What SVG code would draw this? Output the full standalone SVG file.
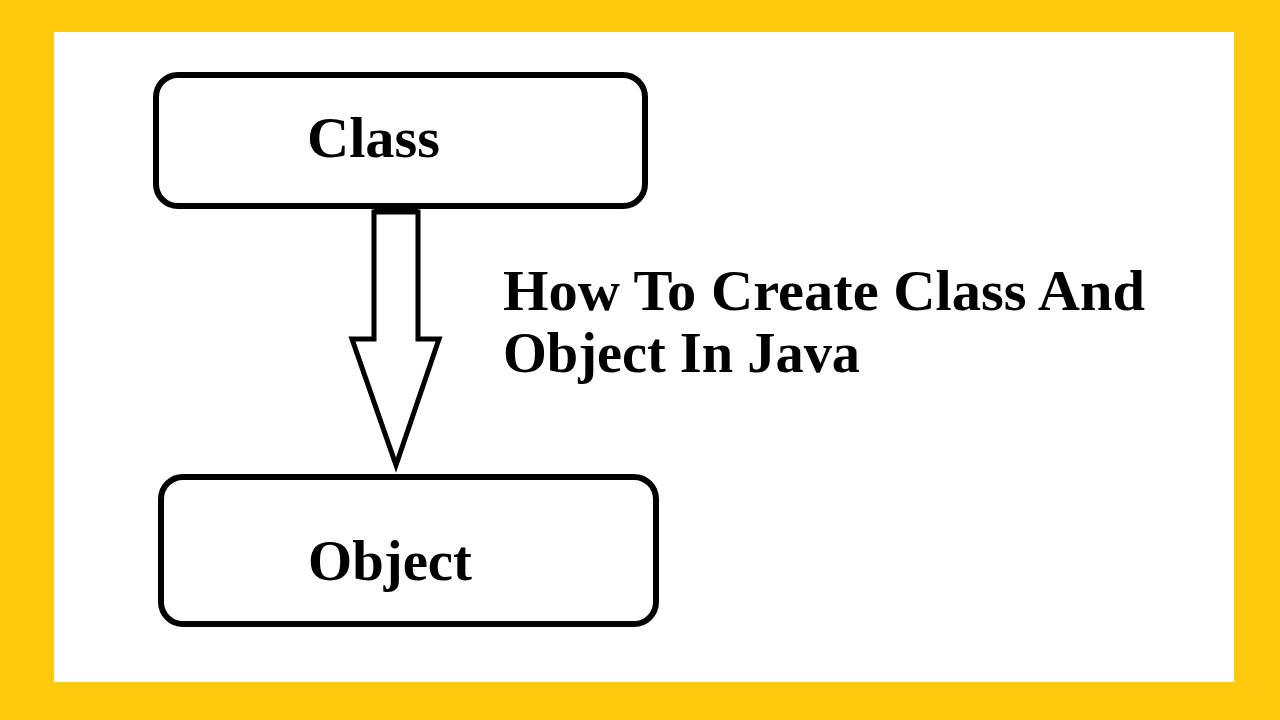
<svg xmlns="http://www.w3.org/2000/svg" width="1280" height="720" viewBox="0 0 1280 720">
  <style>
    .box { fill: #ffffff; stroke: #000000; stroke-width: 6; }
    .arrow { fill: #ffffff; stroke: #000000; stroke-width: 5; stroke-linejoin: miter; }
    .lbl { font-family: "Liberation Serif", "Times New Roman", serif; font-weight: bold; font-size: 57px; fill: #000000; }
  </style>
  <rect x="0" y="0" width="1280" height="720" fill="#FFC90E"/>
  <rect x="54" y="32" width="1180" height="650" fill="#ffffff"/>
  <g id="connectors">
    <rect x="374" y="206" width="44" height="9" fill="#000000"/>
    <polygon class="arrow" points="374,212 374,339 352,339 396,465 439,339 418,339 418,212"/>
  </g>
  <g id="node-class">
    <rect class="box" x="156" y="75" width="489" height="131" rx="22" ry="22"/>
    <text class="lbl" x="307" y="157" textLength="133" lengthAdjust="spacingAndGlyphs">Class</text>
  </g>
  <g id="node-object">
    <rect class="box" x="161" y="477" width="495" height="147" rx="22" ry="22"/>
    <text class="lbl" x="308" y="580" textLength="164" lengthAdjust="spacingAndGlyphs">Object</text>
  </g>
  <g id="title">
    <text class="lbl" x="503" y="310" textLength="642" lengthAdjust="spacingAndGlyphs">How To Create Class And</text>
    <text class="lbl" x="503" y="372" textLength="357" lengthAdjust="spacingAndGlyphs">Object In Java</text>
  </g>
</svg>
